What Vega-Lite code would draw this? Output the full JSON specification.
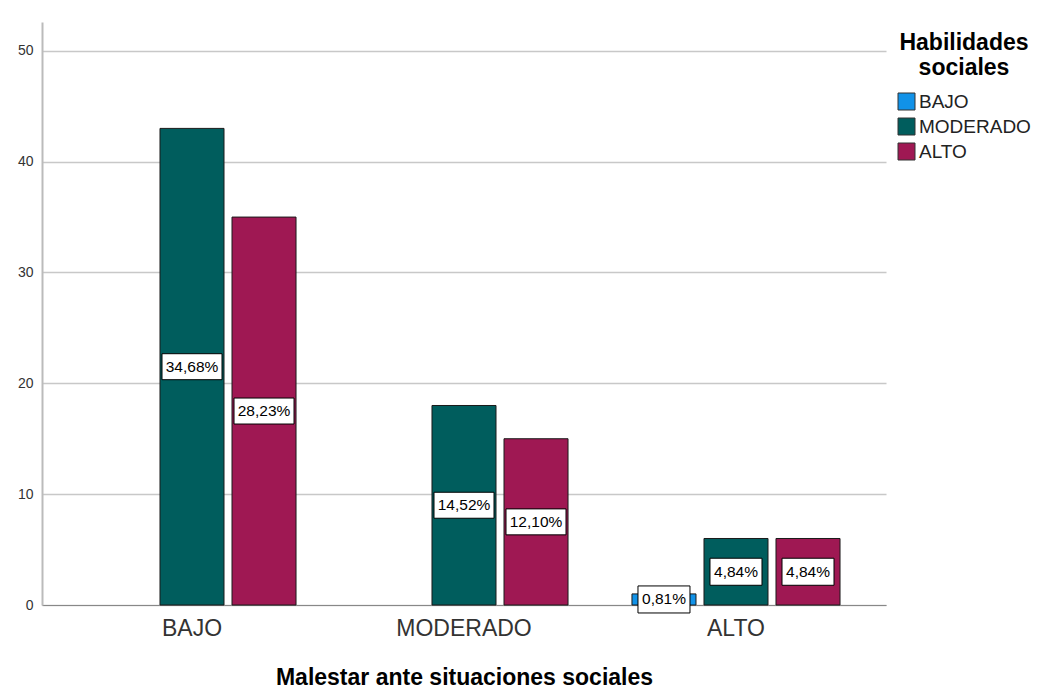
{
  "$schema": "https://vega.github.io/schema/vega-lite/v6.json",
  "width": 844,
  "height": 583,
  "autosize": {"type": "none"},
  "padding": {"left": 42, "top": 22, "right": 155, "bottom": 95},
  "background": "white",
  "config": {
    "view": {"stroke": null},
    "font": "Liberation Sans"
  },
  "data": {
    "values": [
      {"malestar": "BAJO", "habilidades": "MODERADO", "n": 43, "pct": "34,68%"},
      {"malestar": "BAJO", "habilidades": "ALTO", "n": 35, "pct": "28,23%"},
      {"malestar": "MODERADO", "habilidades": "MODERADO", "n": 18, "pct": "14,52%"},
      {"malestar": "MODERADO", "habilidades": "ALTO", "n": 15, "pct": "12,10%"},
      {"malestar": "ALTO", "habilidades": "BAJO", "n": 1, "pct": "0,81%"},
      {"malestar": "ALTO", "habilidades": "MODERADO", "n": 6, "pct": "4,84%"},
      {"malestar": "ALTO", "habilidades": "ALTO", "n": 6, "pct": "4,84%"}
    ]
  },
  "encoding": {
    "x": {
      "field": "malestar",
      "type": "nominal",
      "sort": ["BAJO", "MODERADO", "ALTO"],
      "scale": {"paddingInner": 0, "paddingOuter": 0.0515},
      "axis": {
        "title": "Malestar ante situaciones sociales",
        "titleFontSize": 23,
        "titleFontWeight": "bold",
        "titleColor": "#000000",
        "titlePadding": 26,
        "labelFontSize": 23,
        "labelColor": "#333333",
        "labelPadding": 12,
        "labelAngle": 0,
        "ticks": false,
        "domainColor": "#888888",
        "domainWidth": 1.2,
        "grid": false
      }
    },
    "xOffset": {
      "field": "habilidades",
      "type": "nominal",
      "sort": ["BAJO", "MODERADO", "ALTO"],
      "scale": {"domain": ["BAJO", "MODERADO", "ALTO"], "paddingInner": 0.111, "paddingOuter": 0.444}
    }
  },
  "layer": [
    {
      "mark": {"type": "bar", "stroke": "#1a1a1a", "strokeWidth": 1},
      "encoding": {
        "y": {
          "field": "n",
          "type": "quantitative",
          "scale": {"domain": [0, 52.6], "nice": false},
          "axis": {
            "title": null,
            "values": [0, 10, 20, 30, 40, 50],
            "grid": true,
            "gridColor": "#c8c8c8",
            "gridWidth": 1.5,
            "ticks": false,
            "domainColor": "#bbbbbb",
            "domainWidth": 2,
            "labelFontSize": 14,
            "labelColor": "#333333",
            "labelPadding": 9
          }
        },
        "color": {
          "field": "habilidades",
          "type": "nominal",
          "scale": {"domain": ["BAJO", "MODERADO", "ALTO"], "range": ["#1192e8", "#005d5d", "#9f1853"]},
          "legend": {
            "title": ["Habilidades", "sociales"],
            "orient": "none",
            "legendX": 855,
            "legendY": 10,
            "titleFontSize": 23,
            "titleFontWeight": "bold",
            "titleColor": "#000000",
            "titleLineHeight": 25,
            "titleAnchor": "middle",
            "titleAlign": "center",
            "titlePadding": 12,
            "labelFontSize": 19,
            "labelColor": "#222222",
            "labelOffset": 3,
            "symbolType": "square",
            "symbolSize": 289,
            "symbolStrokeColor": "#333333",
            "symbolStrokeWidth": 1,
            "symbolOpacity": 1,
            "rowPadding": 4
          }
        }
      }
    },
    {
      "transform": [{"calculate": "datum.n/2", "as": "mid"}],
      "mark": {"type": "point", "filled": true, "fill": "white", "stroke": "black", "strokeWidth": 1, "opacity": 1},
      "encoding": {
        "y": {"field": "mid", "type": "quantitative"},
        "shape": {
          "condition": {"test": "length(datum.pct) > 5", "value": "M-1,-0.433H1V0.433H-1Z"},
          "value": "M-1,-0.52H1V0.52H-1Z"
        },
        "size": {
          "condition": {"test": "length(datum.pct) > 5", "value": 3600},
          "value": 2704
        }
      }
    },
    {
      "transform": [{"calculate": "datum.n/2", "as": "mid"}],
      "mark": {"type": "text", "fontSize": 15.5, "color": "#000000"},
      "encoding": {
        "y": {"field": "mid", "type": "quantitative"},
        "text": {"field": "pct", "type": "nominal"}
      }
    }
  ]
}
